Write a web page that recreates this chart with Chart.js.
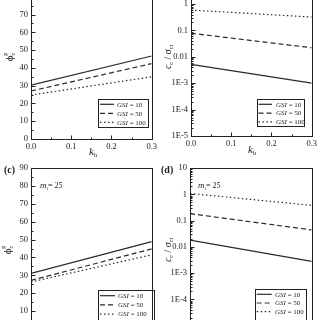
<!DOCTYPE html>
<html><head><meta charset="utf-8">
<script src="https://cdn.jsdelivr.net/npm/chart.js@4/dist/chart.umd.min.js"></script>
<style>
html,body{margin:0;padding:0;background:#fff;width:320px;height:320px;overflow:hidden;position:relative}
canvas{position:absolute}
</style></head><body>
<canvas id="ca" width="160" height="200" style="left:0;top:-40px"></canvas>
<canvas id="cb" width="160" height="200" style="left:160px;top:-40px"></canvas>
<canvas id="cc" width="160" height="200" style="left:0;top:160px"></canvas>
<canvas id="cd" width="160" height="200" style="left:160px;top:160px"></canvas>
<script>
// ---- data ----
const kh = [0, 0.3];
const gsiLabels = ['10', '50', '100'];
// panel (a): friction angle
const phiA_gsi10 = [30.3, 46.7];
const phiA_gsi50 = [27.0, 42.4];
const phiA_gsi100 = [24.7, 35.0];
// panel (b): cohesion ratio
const ccB_gsi10 = [0.0052, 0.0010];
const ccB_gsi50 = [0.078, 0.022];
const ccB_gsi100 = [0.59, 0.32];
// panel (c): friction angle, mi = 25
const phiC_gsi10 = [31.1, 48.9];
const phiC_gsi50 = [27.2, 44.8];
const phiC_gsi100 = [26.3, 41.5];
// panel (d): cohesion ratio, mi = 25
const ccD_gsi10 = [0.018, 0.0028];
const ccD_gsi50 = [0.184, 0.044];
const ccD_gsi100 = [1.08, 0.38];
// ticks
const xTicks = [0, 0.1, 0.2, 0.3];
const xTickLabels = ['0.0', '0.1', '0.2', '0.3'];
const xMinor = [0.05, 0.15, 0.25];
const linTicks = [0, 10, 20, 30, 40, 50, 60, 70, 80, 90];
const linTickLabels = ['0', '10', '20', '30', '40', '50', '60', '70', '80', '90'];
const logTicks = [1e-5, 1e-4, 1e-3, 0.01, 0.1, 1, 10];
const logTickLabels = ['1E-5', '1E-4', '1E-3', '0.01', '0.1', '1', '10'];

const SERIF = '"Liberation Serif", "Times New Roman", serif';
const INK = '#222';
const dashes = [[], [5, 3], [1.5, 2.5]];

function ds(series) {
  return series.map((arr, i) => ({
    label: gsiLabels[i],
    data: kh.map((k, j) => ({x: k, y: arr[j]})),
    borderColor: '#2a2a2a', borderWidth: 1.2, borderDash: dashes[i],
    pointRadius: 0, fill: false, tension: 0
  }));
}

function drawRich(ctx, parts, x, y) {
  // parts: [text, size, italic, dy]
  let cx = x;
  for (const p of parts) {
    ctx.font = (p[2] ? 'italic ' : '') + p[1] + 'px ' + SERIF;
    ctx.fillText(p[0], cx, y + (p[3] || 0));
    cx += ctx.measureText(p[0]).width;
  }
  return cx - x;
}
function richWidth(ctx, parts) {
  let w = 0;
  for (const p of parts) { ctx.font = (p[2] ? 'italic ' : '') + p[1] + 'px ' + SERIF; w += ctx.measureText(p[0]).width; }
  return w;
}

const decor = {
  id: 'decor',
  afterDraw(chart, args, o) {
    const ctx = chart.ctx, a = chart.chartArea, xs = chart.scales.x, ys = chart.scales.y;
    ctx.save();
    ctx.strokeStyle = INK; ctx.fillStyle = INK; ctx.lineWidth = 1;
    const L = Math.round(a.left) + 0.5, R = Math.round(a.right) + 0.5, T = Math.round(a.top) + 0.5, B = Math.round(a.bottom) + 0.5;
    ctx.strokeRect(L, T, R - L, B - T);
    ctx.beginPath();
    xTicks.forEach(v => { const p = Math.round(xs.getPixelForValue(v)) + 0.5; ctx.moveTo(p, B); ctx.lineTo(p, B - 4); });
    xMinor.forEach(v => { const p = Math.round(xs.getPixelForValue(v)) + 0.5; ctx.moveTo(p, B); ctx.lineTo(p, B - 2); });
    ys.ticks.forEach(t => { const p = Math.round(ys.getPixelForValue(t.value)) + 0.5; ctx.moveTo(L, p); ctx.lineTo(L + 4, p); });
    if (o.log) {
      for (let d = -5; d < 1; d++) for (let m = 2; m < 10; m++) {
        const p = Math.round(ys.getPixelForValue(m * Math.pow(10, d))) + 0.5; ctx.moveTo(L, p); ctx.lineTo(L + 2, p);
      }
    } else {
      for (let v = 5; v < 90; v += 10) { const p = Math.round(ys.getPixelForValue(v)) + 0.5; ctx.moveTo(L, p); ctx.lineTo(L + 2, p); }
    }
    ctx.stroke();
    // legend
    const lg = o.legend;
    ctx.strokeRect(Math.round(lg.x) + 0.5, Math.round(lg.y) + 0.5, lg.w, lg.h);
    ctx.textBaseline = 'middle'; ctx.textAlign = 'left';
    chart.data.datasets.forEach((d, i) => {
      const y = lg.y + lg.row0 + i * lg.dy;
      ctx.save();
      ctx.setLineDash(d.borderDash); ctx.lineWidth = 1.2; ctx.strokeStyle = d.borderColor;
      ctx.beginPath(); ctx.moveTo(lg.x + lg.l0, y); ctx.lineTo(lg.x + lg.l1, y); ctx.stroke();
      ctx.restore();
      drawRich(ctx, [['GSI', 7, true], [' = ' + d.label, 7, false]], lg.x + lg.tx, y + 0.5);
    });
    ctx.textBaseline = 'alphabetic';
    // y title
    ctx.save();
    ctx.translate(o.yTitle.x, o.yTitle.y); ctx.rotate(-Math.PI / 2);
    let parts;
    if (o.log) parts = [['c', 10, true], ['c', 6, false, 2], [' / ', 10, false], ['σ', 10, true], ['ci', 6, false, 2]];
    else parts = [['ϕ', 11, false], ['c', 6, false, 2]];
    const w = richWidth(ctx, parts);
    const ww = drawRich(ctx, parts, -w / 2, 4);
    if (!o.log) { ctx.font = '6px ' + SERIF; ctx.fillText('p', -w / 2 + ww - 3, -2); }
    ctx.restore();
    // x title
    if (o.xTitle) drawRich(ctx, [['k', 11, true], ['h', 6, false, 2]], o.xTitle.x, o.xTitle.y);
    if (o.panel) { ctx.font = 'bold 10px ' + SERIF; ctx.fillText(o.panel.t, o.panel.x, o.panel.y); }
    if (o.mi) drawRich(ctx, [['m', 9, true], ['i', 5, false, 2], ['= 25', 8, false]], o.mi.x, o.mi.y);
    ctx.restore();
  }
};

function make(id, series, log, area, H, extra) {
  const yScale = log ? {
    type: 'logarithmic', min: 1e-5, max: 10,
    afterBuildTicks: s => { s.ticks = logTicks.map(v => ({value: v})); },
    ticks: {callback: (v, i) => logTickLabels[i], font: {family: SERIF, size: 8.5}, color: INK, padding: 3}
  } : {
    type: 'linear', min: 0, max: 90,
    afterBuildTicks: s => { s.ticks = linTicks.map(v => ({value: v})); },
    ticks: {callback: (v, i) => linTickLabels[i], font: {family: SERIF, size: 8.5}, color: INK, padding: 3}
  };
  Object.assign(yScale, {
    grid: {display: false, drawTicks: false}, border: {display: false},
    afterFit: s => { s.width = area.left; }
  });
  return new Chart(document.getElementById(id), {
    type: 'line',
    data: {datasets: ds(series)},
    options: {
      responsive: false, animation: false, devicePixelRatio: 1,
      layout: {autoPadding: false, padding: {top: area.top, right: 160 - area.right, left: 0, bottom: 0}},
      plugins: {legend: {display: false}, tooltip: {enabled: false}, decor: Object.assign({log: log}, extra)},
      scales: {
        x: {
          type: 'linear', min: 0, max: 0.3,
          afterBuildTicks: s => { s.ticks = xTicks.map(v => ({value: v})); },
          ticks: {callback: (v, i) => xTickLabels[i], font: {family: SERIF, size: 8.5}, color: INK, padding: 3, maxRotation: 0, autoSkip: false},
          grid: {display: false, drawTicks: false}, border: {display: false},
          afterFit: s => { s.height = H - area.bottom; }
        },
        y: yScale
      }
    },
    plugins: [decor]
  });
}

make('ca', [phiA_gsi10, phiA_gsi50, phiA_gsi100], false, {left: 31, right: 157, top: 19, bottom: 179}, 200, {
  legend: {x: 98, y: 139, w: 50, h: 28, row0: 5.3, dy: 9, l0: 2, l1: 16, tx: 19},
  yTitle: {x: 9, y: 97}, xTitle: {x: 89, y: 195}
});
make('cb', [ccB_gsi10, ccB_gsi50, ccB_gsi100], true, {left: 31, right: 152, top: 17.6, bottom: 176}, 200, {
  legend: {x: 97, y: 139, w: 47, h: 27, row0: 5.3, dy: 8.8, l0: 1.5, l1: 15, tx: 19},
  yTitle: {x: 7, y: 97}, xTitle: {x: 88, y: 193}
});
make('cc', [phiC_gsi10, phiC_gsi50, phiC_gsi100], false, {left: 31, right: 157, top: 7.5, bottom: 169}, 200, {
  legend: {x: 98, y: 130, w: 56, h: 40, row0: 5.7, dy: 9.2, l0: 2, l1: 17, tx: 20},
  yTitle: {x: 7, y: 90}, panel: {t: '(c)', x: 4, y: 13}, mi: {x: 40, y: 28}
});
make('cd', [ccD_gsi10, ccD_gsi50, ccD_gsi100], true, {left: 30, right: 152, top: 8, bottom: 165.6}, 200, {
  legend: {x: 95, y: 129.3, w: 51, h: 40, row0: 5, dy: 8.7, l0: 1.7, l1: 16.7, tx: 20},
  yTitle: {x: 7, y: 90}, panel: {t: '(d)', x: 1, y: 13}, mi: {x: 38, y: 28}
});
</script>
</body></html>
